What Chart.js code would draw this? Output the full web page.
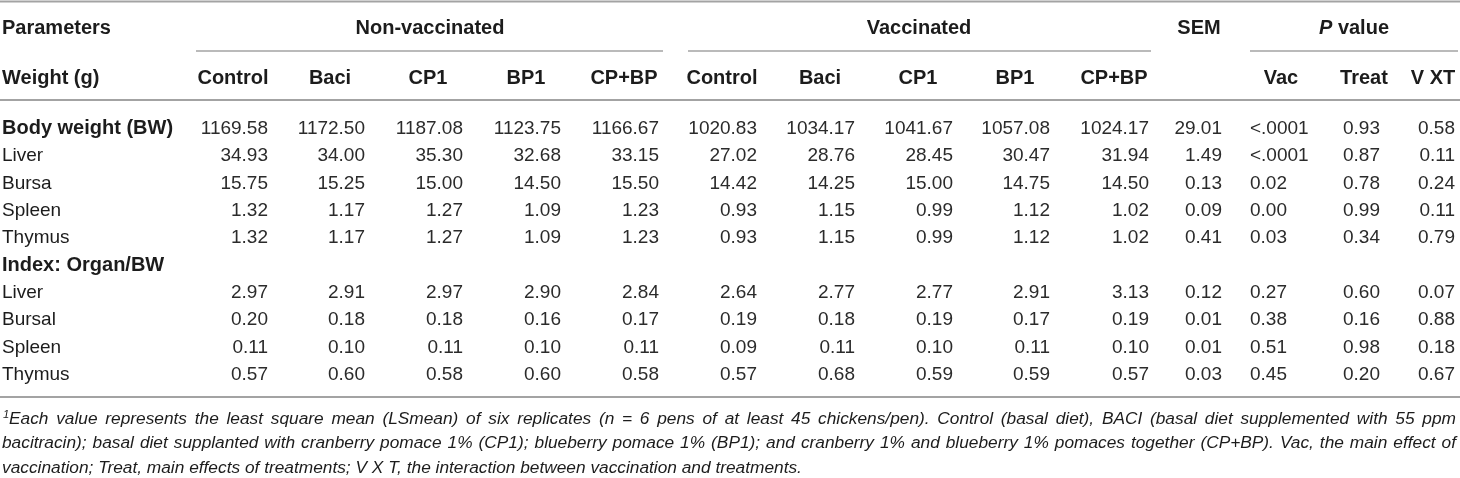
<!DOCTYPE html>
<html>
<head>
<meta charset="utf-8">
<script src="https://cdn.jsdelivr.net/npm/chart.js@4.4.1/dist/chart.umd.min.js"></script>
<style>
  html, body { margin: 0; padding: 0; background: #fff; }
  #tabela { display: block; }
</style>
</head>
<body>
<canvas id="tabela" width="1460" height="478"></canvas>
<script>
// cabeçalhos
const groupLabels = ['Non-vaccinated', 'Vaccinated'];
const treatmentLabels = ['Control', 'Baci', 'CP1', 'BP1', 'CP+BP'];
const pValueLabels = ['Vac', 'Treat', 'V XT'];

// linhas da tabela (null = linha de título, sem valores)
const rowLabels = ['Body weight (BW)', 'Liver', 'Bursa', 'Spleen', 'Thymus',
  'Index: Organ/BW', 'Liver', 'Bursal', 'Spleen', 'Thymus'];
const boldRows = [0, 5];

// não vacinados
const nvControl = [1169.58, 34.93, 15.75, 1.32, 1.32, null, 2.97, 0.20, 0.11, 0.57];
const nvBaci    = [1172.50, 34.00, 15.25, 1.17, 1.17, null, 2.91, 0.18, 0.10, 0.60];
const nvCP1     = [1187.08, 35.30, 15.00, 1.27, 1.27, null, 2.97, 0.18, 0.11, 0.58];
const nvBP1     = [1123.75, 32.68, 14.50, 1.09, 1.09, null, 2.90, 0.16, 0.10, 0.60];
const nvCPBP    = [1166.67, 33.15, 15.50, 1.23, 1.23, null, 2.84, 0.17, 0.11, 0.58];

// vacinados
const vControl = [1020.83, 27.02, 14.42, 0.93, 0.93, null, 2.64, 0.19, 0.09, 0.57];
const vBaci    = [1034.17, 28.76, 14.25, 1.15, 1.15, null, 2.77, 0.18, 0.11, 0.68];
const vCP1     = [1041.67, 28.45, 15.00, 0.99, 0.99, null, 2.77, 0.19, 0.10, 0.59];
const vBP1     = [1057.08, 30.47, 14.75, 1.12, 1.12, null, 2.91, 0.17, 0.11, 0.59];
const vCPBP    = [1024.17, 31.94, 14.50, 1.02, 1.02, null, 3.13, 0.19, 0.10, 0.57];

const sem    = [29.01, 1.49, 0.13, 0.09, 0.41, null, 0.12, 0.01, 0.01, 0.03];
const pVac   = ['<.0001', '<.0001', 0.02, 0.00, 0.03, null, 0.27, 0.38, 0.51, 0.45];
const pTreat = [0.93, 0.87, 0.78, 0.99, 0.34, null, 0.60, 0.16, 0.98, 0.20];
const pVxT   = [0.58, 0.11, 0.24, 0.11, 0.79, null, 0.07, 0.88, 0.18, 0.67];

const footnoteLines = [
  'Each value represents the least square mean (LSmean) of six replicates (n = 6 pens of at least 45 chickens/pen). Control (basal diet), BACI (basal diet supplemented with 55 ppm',
  'bacitracin); basal diet supplanted with cranberry pomace 1% (CP1); blueberry pomace 1% (BP1); and cranberry 1% and blueberry 1% pomaces together (CP+BP). Vac, the main effect of',
  'vaccination; Treat, main effects of treatments; V X T, the interaction between vaccination and treatments.'
];

// ---- layout ----
const FAMILIA = '"Liberation Sans", Arial, Helvetica, sans-serif';
const fonteNormal = '19px ' + FAMILIA;
const fonteBold = '700 20px ' + FAMILIA;
const corTexto = '#1c1c1c';
const corNumero = '#2b2b2b';
const corLinha = '#a3a3a3';
const rowPitch = 27.333;
const firstRowPx = 127;
const toRow = px => (px - firstRowPx) / rowPitch;

const colunas = [
  { values: nvControl, x: 268 }, { values: nvBaci, x: 365 }, { values: nvCP1, x: 463 },
  { values: nvBP1, x: 561 }, { values: nvCPBP, x: 659 },
  { values: vControl, x: 757 }, { values: vBaci, x: 855 }, { values: vCP1, x: 953 },
  { values: vBP1, x: 1050 }, { values: vCPBP, x: 1149 },
  { values: sem, x: 1222 },
  { values: pVac, x: 1250, align: 'left' },
  { values: pTreat, x: 1380 },
  { values: pVxT, x: 1455 },
];

const formata = v => (v === null ? null : (typeof v === 'number' ? v.toFixed(2) : v));

const datasets = colunas.map(col => ({
  data: col.values
    .map((v, i) => ({ x: col.x, y: i, label: formata(v) }))
    .filter(p => p.label !== null),
  textAlign: col.align || 'right',
  pointRadius: 0,
  showLine: false,
}));

// nomes das linhas
datasets.push({
  data: rowLabels.map((nome, i) => ({ x: 2, y: i, label: nome, bold: boldRows.includes(i) })),
  textAlign: 'left',
  pointRadius: 0,
  showLine: false,
});

function texto(ctx, str, x, yCentro, font, align, size) {
  ctx.font = font;
  ctx.textAlign = align;
  ctx.textBaseline = 'alphabetic';
  ctx.fillText(str, x, yCentro + 0.36 * size);
}

function linha(ctx, x1, x2, y, w) {
  ctx.beginPath();
  ctx.lineWidth = w;
  ctx.strokeStyle = corLinha;
  ctx.moveTo(x1, y);
  ctx.lineTo(x2, y);
  ctx.stroke();
}

function justificado(ctx, str, x, y, largura, justificar) {
  const palavras = str.split(' ');
  ctx.textAlign = 'left';
  if (!justificar) {
    ctx.fillText(str, x, y);
    return;
  }
  const somaPalavras = palavras.reduce((s, p) => s + ctx.measureText(p).width, 0);
  const espaco = (largura - somaPalavras) / (palavras.length - 1);
  let cx = x;
  palavras.forEach(p => {
    ctx.fillText(p, cx, y);
    cx += ctx.measureText(p).width + espaco;
  });
}

const desenhaTabela = {
  id: 'desenhaTabela',
  afterDatasetsDraw(chart) {
    const ctx = chart.ctx;
    const xs = chart.scales.x;
    const ys = chart.scales.y;
    const py = r => ys.getPixelForValue(r);
    const px = v => xs.getPixelForValue(v);
    ctx.save();
    ctx.fillStyle = corTexto;

    // linhas horizontais
    linha(ctx, 0, 1460, py(toRow(1.5)), 2);
    linha(ctx, px(196), px(663), py(toRow(51)), 1.5);
    linha(ctx, px(688), px(1151), py(toRow(51)), 1.5);
    linha(ctx, px(1250), px(1458), py(toRow(51)), 1.5);
    linha(ctx, 0, 1460, py(toRow(100)), 2);
    linha(ctx, 0, 1460, py(toRow(397)), 2);

    // cabeçalho 1
    const yH1 = py(toRow(27));
    texto(ctx, 'Parameters', px(2), yH1, fonteBold, 'left', 20);
    texto(ctx, groupLabels[0], px(430), yH1, fonteBold, 'center', 20);
    texto(ctx, groupLabels[1], px(919), yH1, fonteBold, 'center', 20);
    texto(ctx, 'SEM', px(1199), yH1, fonteBold, 'center', 20);
    // "P value" com P em itálico
    ctx.font = 'italic ' + fonteBold;
    const wP = ctx.measureText('P').width;
    ctx.font = fonteBold;
    const wV = ctx.measureText(' value').width;
    const inicioP = px(1354) - (wP + wV) / 2;
    texto(ctx, 'P', inicioP, yH1, 'italic ' + fonteBold, 'left', 20);
    texto(ctx, ' value', inicioP + wP, yH1, fonteBold, 'left', 20);

    // cabeçalho 2
    const yH2 = py(toRow(77));
    texto(ctx, 'Weight (g)', px(2), yH2, fonteBold, 'left', 20);
    colunas.slice(0, 10).forEach((col, i) => {
      texto(ctx, treatmentLabels[i % 5], px(col.x - 35), yH2, fonteBold, 'center', 20);
    });
    [1281, 1364, 1433].forEach((cx, i) => texto(ctx, pValueLabels[i], px(cx), yH2, fonteBold, 'center', 20));

    // células
    chart.data.datasets.forEach((ds, di) => {
      const meta = chart.getDatasetMeta(di);
      meta.data.forEach((el, j) => {
        const ponto = ds.data[j];
        const f = ponto.bold ? fonteBold : fonteNormal;
        ctx.fillStyle = (ponto.bold || ds.textAlign === 'left' && di === chart.data.datasets.length - 1) ? corTexto : corNumero;
        texto(ctx, ponto.label, el.x, el.y, f, ds.textAlign, ponto.bold ? 20 : 19);
      });
    });
    ctx.fillStyle = corTexto;

    // nota de rodapé: tamanho que cabe na linha 2 sem apertar os espaços
    ctx.font = 'italic 16px ' + FAMILIA;
    const tam3 = 16 * 835 / ctx.measureText(footnoteLines[2]).width;
    const tam2 = 16 * 1425 / ctx.measureText(footnoteLines[1]).width;
    const tam = Math.min(tam2, tam3);
    const fonteNota = 'italic ' + tam.toFixed(2) + 'px ' + FAMILIA;
    const yN = [418, 442, 467].map(v => py(toRow(v)) + 0.36 * tam);
    ctx.font = 'italic ' + (tam * 0.65).toFixed(2) + 'px ' + FAMILIA;
    ctx.textAlign = 'left';
    ctx.fillText('1', px(3), yN[0] - tam * 0.38);
    ctx.font = fonteNota;
    justificado(ctx, footnoteLines[0], px(9), yN[0], px(1456) - px(9), true);
    justificado(ctx, footnoteLines[1], px(2), yN[1], px(1456) - px(2), true);
    justificado(ctx, footnoteLines[2], px(2), yN[2], 0, false);

    ctx.restore();
  }
};

new Chart(document.getElementById('tabela'), {
  type: 'scatter',
  data: { datasets: datasets },
  options: {
    responsive: false,
    animation: false,
    layout: { padding: 0 },
    plugins: {
      legend: { display: false },
      tooltip: { enabled: false },
    },
    scales: {
      x: { type: 'linear', min: 0, max: 1460, display: false },
      y: { type: 'linear', min: toRow(0), max: toRow(478), reverse: true, display: false },
    },
  },
  plugins: [desenhaTabela],
});
</script>
</body>
</html>
